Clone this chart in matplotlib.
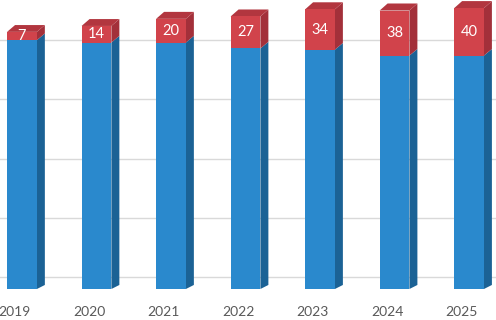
import numpy as np
import matplotlib
matplotlib.use("Agg")
import matplotlib.pyplot as plt
from matplotlib.patches import Polygon

plt.rcParams['font.family'] = ['Lato', 'DejaVu Sans']

years = ['2019', '2020', '2021', '2022', '2023', '2024', '2025']
blue_vals = [210, 208, 208, 203, 202, 197, 197]
red_vals = [7, 14, 20, 27, 34, 38, 40]

BLUE_FRONT = '#2a89cd'
BLUE_SIDE = '#1b6295'
RED_FRONT = '#d1434b'
RED_SIDE = '#a3303a'
RED_TOP = '#b2363f'

fig = plt.figure(figsize=(4.96, 3.2), dpi=100)
ax = fig.add_axes([0, 31 / 320, 1, 289 / 320])
ax.set_xlim(-0.295, 6.362)
ax.set_ylim(0, 243.9)
for s in ax.spines.values():
    s.set_visible(False)
ax.set_yticks([])

x = np.arange(len(years))
w = 0.40
dx = 0.107


def dy(v):
    return 3.4 + v * (5.9 - 3.4) / 230.0


# back-wall gridlines
for k in range(5):
    ax.axhline(10.1 + 50 * k, color='#d9d9d9', lw=1.0, zorder=1)

ax.bar(x, blue_vals, width=w, color=BLUE_FRONT, zorder=3, linewidth=0)
ax.bar(x, red_vals, bottom=blue_vals, width=w, color=RED_FRONT, zorder=3, linewidth=0)

for i, (b, r) in enumerate(zip(blue_vals, red_vals)):
    xr = x[i] + w / 2
    xl = x[i] - w / 2
    # blue side
    ax.add_patch(Polygon([(xr, 0), (xr + dx, dy(0)), (xr + dx, b + dy(b)), (xr, b)],
                         closed=True, color=BLUE_SIDE, lw=0, zorder=2))
    # red side
    t = b + r
    ax.add_patch(Polygon([(xr, b), (xr + dx, b + dy(b)), (xr + dx, t + dy(t)), (xr, t)],
                         closed=True, color=RED_SIDE, lw=0, zorder=2))
    # top face
    ax.add_patch(Polygon([(xl, t), (xr, t), (xr + dx, t + dy(t)), (xl + dx, t + dy(t))],
                         closed=True, color=RED_TOP, lw=0, zorder=2))
    ax.text(x[i], b + r / 2, str(r), ha='center', va='center', color='white',
            fontsize=10.5, zorder=4)

ax.set_xticks(x - 0.10)
ax.set_xticklabels(years)
ax.tick_params(axis='x', length=0, pad=12, labelsize=10, labelcolor='#595959')

fig.savefig('out.png', dpi=100)
